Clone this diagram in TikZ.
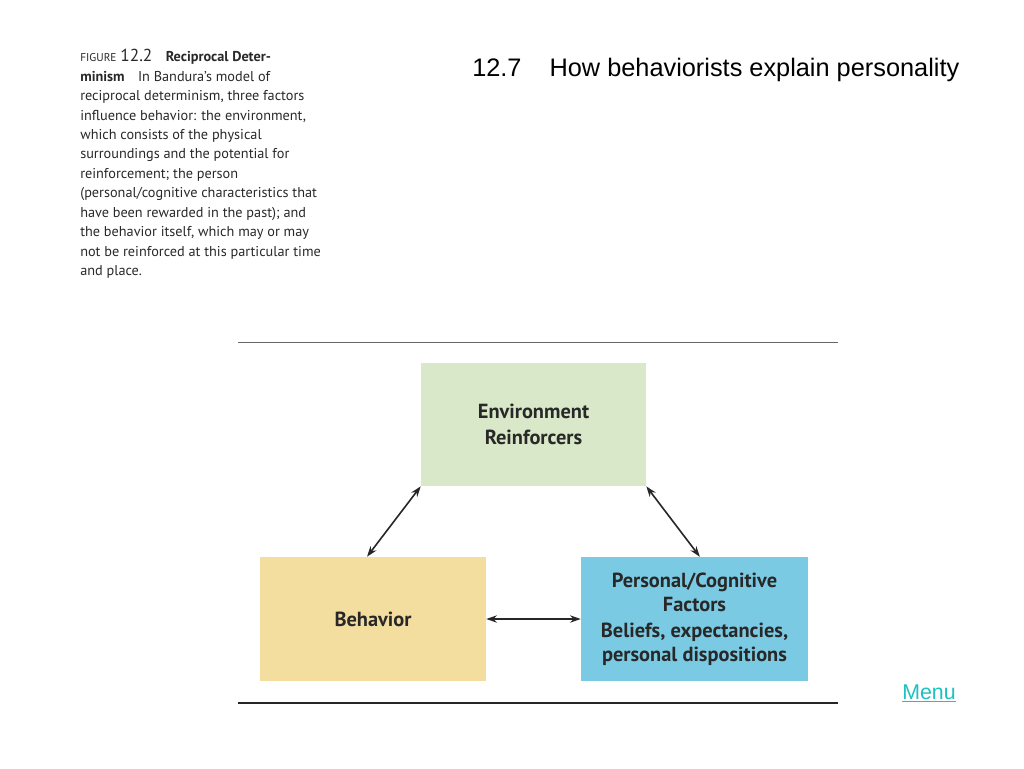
\documentclass[tikz,border=0pt]{standalone}
\usepackage{fontspec}
\setmainfont{PT Sans}
\newfontfamily\titlefont{Liberation Sans}
\usetikzlibrary{arrows.meta}
\definecolor{envgreen}{RGB}{216,232,200}
\definecolor{behyellow}{RGB}{243,222,160}
\definecolor{perblue}{RGB}{122,202,228}
\definecolor{txtdark}{RGB}{40,40,40}
\definecolor{menuteal}{RGB}{30,192,192}
\tikzset{
  box/.style={draw=none, inner sep=0pt, align=center, text=txtdark,
    font=\bfseries\fontsize{15.3}{18}\selectfont},
  arr/.style={line width=1.2pt, draw=black!85, {Stealth[length=8pt,width=5.5pt]}-{Stealth[length=8pt,width=5.5pt]}},
  rule/.style={draw=black!60}
}
\begin{document}
\begin{tikzpicture}[x=0.75pt,y=-0.75pt]
\useasboundingbox (0,0) rectangle (1024,768);
% caption
\node[anchor=north west, align=left, inner sep=0pt, text=txtdark,
  font=\fontsize{10.7}{14.6}\selectfont] (cap) at (80,49) {%
{\fontsize{8.5}{14.6}\selectfont FIGURE} {\fontsize{13}{14.6}\selectfont 12.2}\hspace{10pt}\textbf{Reciprocal Deter-}\\
\textbf{minism}\hspace{10pt}In Bandura’s model of\\
reciprocal determinism, three factors\\
influence behavior: the environment,\\
which consists of the physical\\
surroundings and the potential for\\
reinforcement; the person\\
(personal/cognitive characteristics that\\
have been rewarded in the past); and\\
the behavior itself, which may or may\\
not be reinforced at this particular time\\
and place.};
% title
\node[anchor=base west, inner sep=0pt, font=\titlefont\fontsize{19}{22}\selectfont] (title) at (472,76)
  {12.7\hspace{21pt}How behaviorists explain personality};
% rules
\coordinate (r1a) at (238,342); \coordinate (r1b) at (838,342);
\coordinate (r2a) at (238,703); \coordinate (r2b) at (838,703);
\draw[rule, line width=0.75pt] (r1a) -- (r1b);
\draw[draw=black!85, line width=1.5pt] (r2a) -- (r2b);
% boxes
\node[box, fill=envgreen, minimum width=168.75pt, minimum height=92.25pt] (env) at (533.5,424.5)
  {Environment\\[2pt] Reinforcers};
\node[box, fill=behyellow, minimum width=169.5pt, minimum height=93pt] (beh) at (373,619)
  {Behavior};
\node[box, fill=perblue, minimum width=170.25pt, minimum height=93pt] (per) at (694.5,619)
  {\raisebox{0pt}[\height][\depth]{}Personal/Cognitive\\ Factors\\[1.5pt] Beliefs, expectancies,\\ personal dispositions};
% arrows
\draw[arr] (env.south west) -- ([xshift=-4.5pt]beh.north);
\draw[arr] (env.south east) -- ([xshift=4pt]per.north);
\draw[arr] (beh.east) -- (beh.east -| per.west);
% menu
\node[anchor=base west, inner sep=0pt, text=menuteal, font=\titlefont\fontsize{16}{18}\selectfont] (menu) at (902,699)
  {\underline{Menu}};
\end{tikzpicture}
\end{document}
